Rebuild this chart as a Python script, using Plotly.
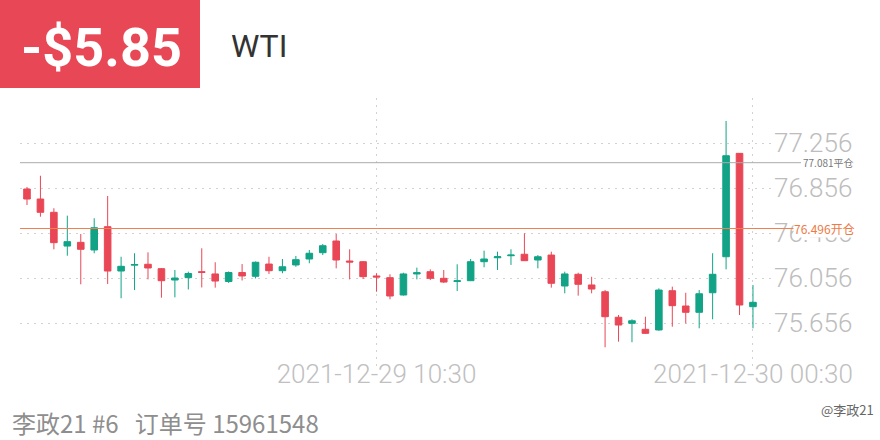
import pandas as pd
import plotly.graph_objects as go

# ---- data ----
times = pd.date_range("2021-12-28 21:30", periods=55, freq="30min").strftime("%Y-%m-%d %H:%M").tolist()
opens = [76.847, 76.758, 76.640, 76.340, 76.373, 76.305, 76.512, 76.118, 76.170, 76.178,
         76.139, 76.038, 76.059, 76.112, 76.092, 76.025, 76.105, 76.071, 76.180, 76.121,
         76.172, 76.225, 76.281, 76.385, 76.207, 76.201, 76.074, 76.059, 75.905, 76.092,
         76.112, 76.053, 76.025, 76.032, 76.201, 76.236, 76.254, 76.267, 76.216, 76.260,
         75.985, 76.089, 75.994, 75.934, 75.707, 75.653, 75.600, 75.594, 75.943, 75.807,
         75.751, 75.925, 76.245, 77.164, 75.801]
highs = [76.865, 76.965, 76.676, 76.610, 76.447, 76.587, 76.785, 76.245, 76.276, 76.284,
         76.145, 76.127, 76.112, 76.320, 76.196, 76.114, 76.180, 76.203, 76.245, 76.225,
         76.252, 76.305, 76.358, 76.447, 76.311, 76.207, 76.098, 76.089, 76.103, 76.148,
         76.133, 76.127, 76.178, 76.225, 76.299, 76.290, 76.311, 76.453, 76.260, 76.290,
         76.112, 76.103, 76.067, 75.949, 75.727, 75.689, 75.712, 75.964, 75.979, 75.925,
         75.949, 76.276, 77.452, 77.167, 75.994]
lows = [76.705, 76.601, 76.311, 76.254, 76.000, 76.276, 76.003, 75.876, 75.949, 76.044,
        75.881, 75.884, 75.954, 75.972, 75.970, 76.012, 76.034, 76.052, 76.092, 76.098,
        76.156, 76.187, 76.260, 76.142, 76.044, 76.047, 75.934, 75.867, 75.900, 76.044,
        76.038, 76.012, 75.940, 76.029, 76.151, 76.127, 76.172, 76.207, 76.142, 75.970,
        75.920, 75.899, 75.920, 75.440, 75.490, 75.485, 75.558, 75.588, 75.623, 75.653,
        75.609, 75.689, 76.133, 75.727, 75.609]
closes = [76.758, 76.640, 76.370, 76.379, 76.311, 76.503, 76.118, 76.160, 76.176, 76.145,
          76.032, 76.056, 76.096, 76.106, 76.029, 76.105, 76.074, 76.196, 76.121, 76.156,
          76.219, 76.276, 76.343, 76.216, 76.198, 76.068, 76.065, 75.896, 76.092, 76.103,
          76.053, 76.020, 76.031, 76.201, 76.225, 76.245, 76.260, 76.210, 76.245, 76.009,
          76.092, 76.000, 75.958, 75.712, 75.638, 75.676, 75.564, 75.949, 75.810, 75.751,
          75.916, 76.089, 77.143, 75.816, 75.840]
ytick_vals = [75.256, 75.656, 76.056, 76.456, 76.856, 77.256, 77.656]
ytick_text = ["", "75.656", "76.056", "76.456", "76.856", "77.256", ""]
xtick_vals = [times[26], times[54]]
close_price = 77.081
open_price = 76.496
pnl_text = "-$5.85"
symbol = "WTI"
footer = "李政21 #6   订单号 15961548"
watermark = "@李政21"

RED = "#E94756"
GREEN = "#12A386"

fig = go.Figure(go.Candlestick(
    x=times, open=opens, high=highs, low=lows, close=closes,
    increasing=dict(line=dict(color=GREEN, width=1), fillcolor=GREEN),
    decreasing=dict(line=dict(color=RED, width=1), fillcolor=RED),
    whiskerwidth=0, hoverinfo="skip",
))

L, R, T, B = 20, 107, 98, 72
PW, PH = 880 - L - R, 440 - T - B

def px_x(p):
    return (p - L) / PW

def px_y(p):
    return (440 - B - p) / PH

shapes = [
    dict(type="rect", xref="paper", yref="paper", x0=px_x(0), x1=px_x(200), y0=px_y(88), y1=px_y(0),
         fillcolor="#E84856", line=dict(width=0), layer="above"),
    dict(type="line", xref="paper", yref="y", x0=0, x1=px_x(801), y0=close_price, y1=close_price,
         line=dict(color="#ABABAB", width=1), layer="above"),
    dict(type="line", xref="paper", yref="y", x0=0, x1=px_x(801), y0=open_price, y1=open_price,
         line=dict(color="#F08050", width=1), layer="above"),
]

annotations = [
    dict(text=f"<b>{pnl_text}</b>", xref="paper", yref="paper", x=px_x(101), y=px_y(47),
         xanchor="center", yanchor="middle", showarrow=False,
         font=dict(family="Roboto", size=54, color="white")),
    dict(text=symbol, xref="paper", yref="paper", x=px_x(229), y=px_y(46),
         xanchor="left", yanchor="middle", showarrow=False,
         font=dict(family="Roboto", size=32, color="#333333")),
    dict(text=f"{close_price:.3f}平仓", xref="paper", yref="y", x=px_x(856), y=close_price,
         xanchor="right", yanchor="middle", showarrow=False,
         font=dict(family="Noto Sans CJK SC", size=10, color="#777777")),
    dict(text=f"{open_price:.3f}开仓", xref="paper", yref="y", x=px_x(856), y=open_price,
         xanchor="right", yanchor="middle", showarrow=False, bgcolor="white", borderpad=0,
         font=dict(family="Noto Sans CJK SC", size=12, color="#EE7A45")),
    dict(text=footer, xref="paper", yref="paper", x=px_x(10), y=px_y(422),
         xanchor="left", yanchor="middle", showarrow=False,
         font=dict(family="Noto Sans CJK SC", size=24, color="#8E8E8E")),
    dict(text=watermark, xref="paper", yref="paper", x=px_x(876), y=px_y(409),
         xanchor="right", yanchor="middle", showarrow=False,
         font=dict(family="Noto Sans CJK SC", size=13, color="#666666")),
]

fig.update_layout(
    width=880, height=440,
    margin=dict(l=L, r=R, t=T, b=B),
    paper_bgcolor="white", plot_bgcolor="white",
    showlegend=False,
    shapes=shapes, annotations=annotations,
    xaxis=dict(
        type="category", rangeslider=dict(visible=False),
        range=[-0.52, 55.49],
        tickmode="array", tickvals=xtick_vals, ticktext=xtick_vals,
        showgrid=True, gridcolor="#D2D2D2", griddash="2px,5px", gridwidth=1,
        ticks="", showline=False, zeroline=False,
        ticklabelstandoff=-12,
        tickfont=dict(family="Roboto", size=26, color="#C0C0C0", weight=300),
    ),
    yaxis=dict(
        side="right", range=[75.256, 77.656],
        tickmode="array", tickvals=ytick_vals, ticktext=ytick_text,
        showgrid=True, gridcolor="#D2D2D2", griddash="2px,5px", gridwidth=1,
        ticks="", showline=False, zeroline=False,
        tickfont=dict(family="Roboto", size=26, color="#BDBDBD", weight=300),
    ),
)

fig.write_html("out.html")
